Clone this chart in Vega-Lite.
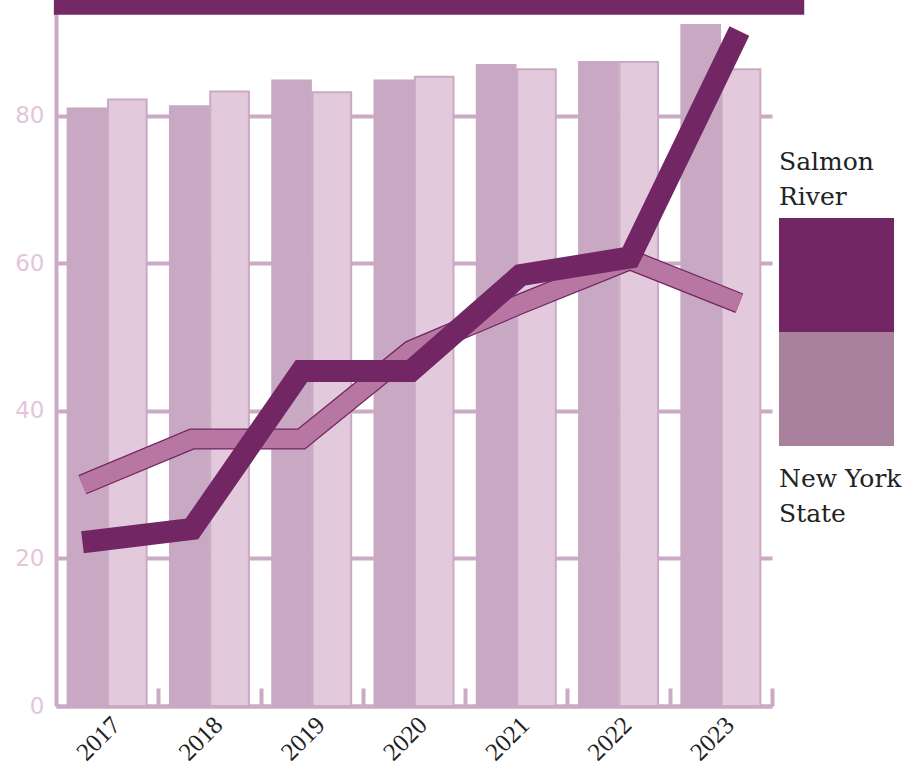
{
  "$schema": "https://vega.github.io/schema/vega-lite/v6.json",
  "autosize": {"type": "pad"},
  "padding": {"left": 14, "top": 0, "right": 0, "bottom": 0},
  "background": "white",
  "spacing": 7,
  "bounds": "flush",
  "config": {"view": {"stroke": null}},
  "resolve": {"scale": {"fill": "independent", "stroke": "independent", "y": "independent", "x": "independent"}},
  "datasets": {
    "bars": [
      {"year": "2017", "series": "Salmon River", "value": 81.0},
      {"year": "2017", "series": "New York State", "value": 82.2},
      {"year": "2018", "series": "Salmon River", "value": 81.3},
      {"year": "2018", "series": "New York State", "value": 83.3},
      {"year": "2019", "series": "Salmon River", "value": 84.8},
      {"year": "2019", "series": "New York State", "value": 83.2},
      {"year": "2020", "series": "Salmon River", "value": 84.8},
      {"year": "2020", "series": "New York State", "value": 85.3},
      {"year": "2021", "series": "Salmon River", "value": 86.9},
      {"year": "2021", "series": "New York State", "value": 86.3},
      {"year": "2022", "series": "Salmon River", "value": 87.3},
      {"year": "2022", "series": "New York State", "value": 87.3},
      {"year": "2023", "series": "Salmon River", "value": 92.3},
      {"year": "2023", "series": "New York State", "value": 86.3}
    ],
    "lines": [
      {"year": "2017", "series": "Salmon River", "value": 22.2},
      {"year": "2018", "series": "Salmon River", "value": 24.0},
      {"year": "2019", "series": "Salmon River", "value": 45.4},
      {"year": "2020", "series": "Salmon River", "value": 45.4},
      {"year": "2021", "series": "Salmon River", "value": 58.4},
      {"year": "2022", "series": "Salmon River", "value": 60.8},
      {"year": "2023", "series": "Salmon River", "value": 91.5},
      {"year": "2017", "series": "New York State", "value": 30.0},
      {"year": "2018", "series": "New York State", "value": 36.2},
      {"year": "2019", "series": "New York State", "value": 36.2},
      {"year": "2020", "series": "New York State", "value": 48.2},
      {"year": "2021", "series": "New York State", "value": 54.5},
      {"year": "2022", "series": "New York State", "value": 60.5},
      {"year": "2023", "series": "New York State", "value": 54.6}
    ],
    "legend": [
      {"series": "Salmon River"},
      {"series": "New York State"}
    ],
    "frame": [{"top": 95.7, "bottom": 93.7, "start": -0.003, "end": 1.045}]
  },
  "hconcat": [
    {
      "width": 716,
      "height": 706,
      "resolve": {"scale": {"x": "independent"}},
      "layer": [
        {
          "data": {"name": "bars"},
          "mark": {"type": "bar", "strokeWidth": 2},
          "encoding": {
            "x": {
              "field": "year", "type": "ordinal",
              "scale": {"paddingInner": 0.228, "paddingOuter": 0.114},
              "axis": {
                "title": null, "labelAngle": -45, "labelFont": "Liberation Serif",
                "labelFontSize": 25, "labelColor": "#222222",
                "domainColor": "#cbaac5", "domainWidth": 4,
                "tickColor": "#cbaac5", "tickWidth": 4, "tickSize": -18,
                "tickBand": "center", "tickOffset": 51.15, "labelOffset": -51.15,
                "labelPadding": 24, "grid": false
              }
            },
            "xOffset": {
              "field": "series", "type": "nominal",
              "sort": ["Salmon River", "New York State"],
              "scale": {"paddingInner": 0.04}
            },
            "y": {
              "field": "value", "type": "quantitative",
              "scale": {"domain": [0, 95.7], "nice": false},
              "axis": {
                "title": null, "values": [0, 20, 40, 60, 80],
                "labelFont": "DejaVu Sans", "labelFontSize": 23, "labelColor": "#e4c5db",
                "labelPadding": 12, "ticks": false,
                "domainColor": "#cbaac5", "domainWidth": 4,
                "grid": true, "gridColor": "#cbaac5", "gridWidth": 4
              }
            },
            "fill": {
              "field": "series", "type": "nominal",
              "scale": {"domain": ["Salmon River", "New York State"], "range": ["#c8a8c2", "#e3c9dc"]},
              "legend": null
            },
            "stroke": {
              "field": "series", "type": "nominal",
              "scale": {"domain": ["Salmon River", "New York State"], "range": ["#c8a8c2", "#caa9c4"]},
              "legend": null
            }
          }
        },
        {
          "data": {"name": "lines"},
          "transform": [{"filter": "datum.series === 'New York State'"}],
          "mark": {"type": "line", "clip": true, "color": "#722664", "strokeWidth": 21, "strokeJoin": "miter", "strokeCap": "butt"},
          "encoding": {
            "x": {"field": "year", "type": "ordinal", "scale": {"type": "point", "padding": 0.27, "align": 0.448}, "axis": null},
            "y": {"field": "value", "type": "quantitative"}
          }
        },
        {
          "data": {"name": "lines"},
          "transform": [{"filter": "datum.series === 'New York State'"}],
          "mark": {"type": "line", "clip": true, "color": "#b877a2", "strokeWidth": 18.5, "strokeJoin": "miter", "strokeCap": "butt"},
          "encoding": {
            "x": {"field": "year", "type": "ordinal", "scale": {"type": "point", "padding": 0.27, "align": 0.448}, "axis": null},
            "y": {"field": "value", "type": "quantitative"}
          }
        },
        {
          "data": {"name": "lines"},
          "transform": [{"filter": "datum.series === 'Salmon River'"}],
          "mark": {"type": "line", "clip": true, "color": "#722664", "strokeWidth": 22, "strokeJoin": "miter", "strokeCap": "butt"},
          "encoding": {
            "x": {"field": "year", "type": "ordinal", "scale": {"type": "point", "padding": 0.27, "align": 0.448}, "axis": null},
            "y": {"field": "value", "type": "quantitative"}
          }
        },
        {
          "data": {"name": "frame"},
          "mark": {"type": "rect", "color": "#742865"},
          "encoding": {
            "x": {"field": "start", "type": "quantitative", "scale": {"domain": [0, 1], "nice": false, "zero": false}, "axis": null},
            "x2": {"field": "end"},
            "y": {"field": "top", "type": "quantitative"},
            "y2": {"field": "bottom"}
          }
        }
      ]
    },
    {
      "width": 115,
      "height": 706,
      "data": {"name": "legend"},
      "layer": [
        {
          "mark": {"type": "rect"},
          "encoding": {
            "y": {
              "field": "series", "type": "nominal",
              "scale": {"domain": ["Salmon River", "New York State"], "range": [218, 446], "paddingInner": 0, "paddingOuter": 0},
              "axis": null
            },
            "fill": {
              "field": "series", "type": "nominal",
              "scale": {"domain": ["Salmon River", "New York State"], "range": ["#722664", "#a8819d"]},
              "legend": null
            }
          }
        },
        {
          "transform": [{"filter": "datum.series === 'Salmon River'"}],
          "mark": {"type": "text", "text": ["Salmon", "River"], "align": "left", "baseline": "alphabetic",
                   "font": "DejaVu Serif", "fontSize": 25, "lineHeight": 35, "dy": -48, "color": "#222222"},
          "encoding": {
            "x": {"datum": 0, "type": "quantitative", "scale": {"domain": [0, 1]}, "axis": null},
            "y": {"field": "series", "type": "nominal", "bandPosition": 0, "axis": null}
          }
        },
        {
          "transform": [{"filter": "datum.series === 'New York State'"}],
          "mark": {"type": "text", "text": ["New York", "State"], "align": "left", "baseline": "alphabetic",
                   "font": "DejaVu Serif", "fontSize": 25, "lineHeight": 35, "dy": 41, "color": "#222222"},
          "encoding": {
            "x": {"datum": 0, "type": "quantitative", "scale": {"domain": [0, 1]}, "axis": null},
            "y": {"field": "series", "type": "nominal", "bandPosition": 1, "axis": null}
          }
        }
      ]
    }
  ]
}
